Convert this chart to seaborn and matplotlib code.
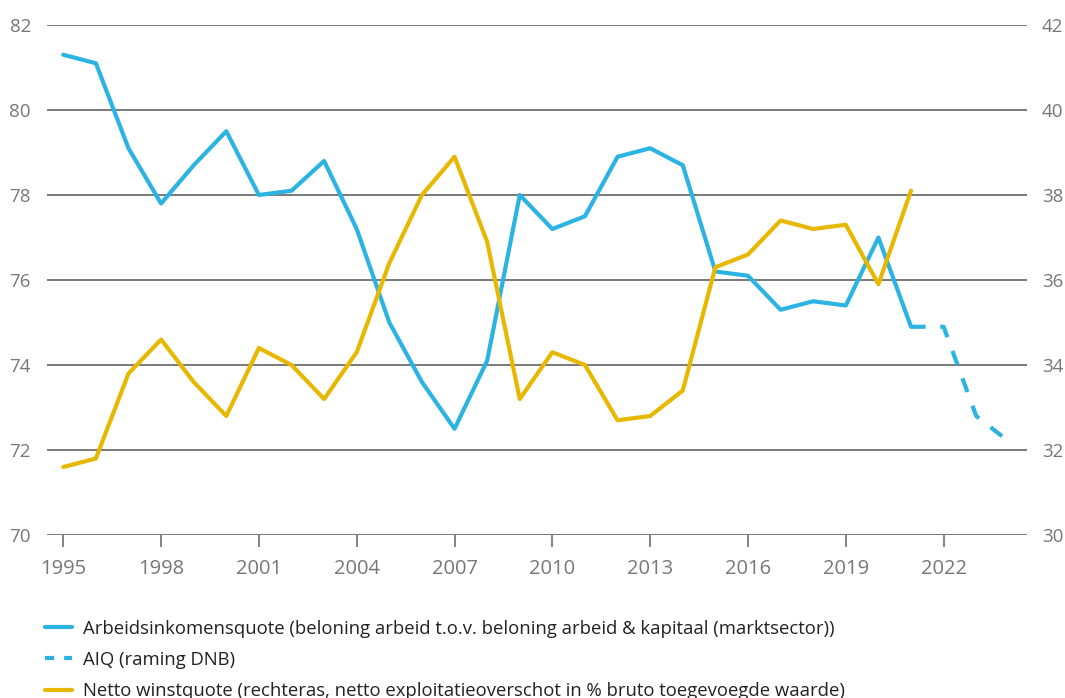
import numpy as np
import pandas as pd
import matplotlib.pyplot as plt
import seaborn as sns
from matplotlib.lines import Line2D

# Data
years = list(range(1995, 2022))
aiq = [81.3, 81.1, 79.1, 77.8, 78.7, 79.5, 78.0, 78.1, 78.8, 77.2,
       75.0, 73.6, 72.5, 74.1, 78.0, 77.2, 77.5, 78.9, 79.1, 78.7,
       76.2, 76.1, 75.3, 75.5, 75.4, 77.0, 74.9]
winst = [31.6, 31.8, 33.8, 34.6, 33.6, 32.8, 34.4, 34.0, 33.2, 34.3,
         36.4, 38.0, 38.9, 36.9, 33.2, 34.3, 34.0, 32.7, 32.8, 33.4,
         36.3, 36.6, 37.4, 37.2, 37.3, 35.9, 38.1]
raming_years = [2021, 2022, 2023, 2024]
raming = [74.9, 74.9, 72.8, 72.2]

labels = ['Arbeidsinkomensquote (beloning arbeid t.o.v. beloning arbeid & kapitaal (marktsector))',
          'AIQ (raming DNB)',
          'Netto winstquote (rechteras, netto exploitatieoverschot in % bruto toegevoegde waarde)']

blue = '#2bb3e3'
yellow = '#e8b800'
grey = '#777777'

df = pd.DataFrame({'year': years, 'aiq': aiq, 'winst': winst})
df_r = pd.DataFrame({'year': raming_years, 'aiq': raming})

sns.set_style('white')
plt.rcParams['font.family'] = ['Open Sans', 'DejaVu Sans']

fig = plt.figure(figsize=(10.65, 6.98), dpi=100)
ax = fig.add_axes([0.0441, 0.2335, 0.920, 0.7307])
ax2 = ax.twinx()

sns.lineplot(data=df, x='year', y='aiq', ax=ax, color=blue, linewidth=3)
sns.lineplot(data=df_r, x='year', y='aiq', ax=ax, color=blue, linewidth=3,
             linestyle=(0, (3.5, 3.5)))
sns.lineplot(data=df, x='year', y='winst', ax=ax2, color=yellow, linewidth=3)

ax.set_xlim(1994.5, 2024.55)
ax.set_ylim(70, 82)
ax2.set_ylim(30, 42)
ax.set_yticks(range(70, 83, 2))
ax2.set_yticks(range(30, 43, 2))
ax.set_xticks(range(1995, 2023, 3))

ax.grid(axis='y', color='#6e6e6e', linewidth=1.3)
ax.set_axisbelow(True)
for a in (ax, ax2):
    for s in a.spines.values():
        s.set_visible(False)
    a.set_xlabel('')
    a.set_ylabel('')

ax.tick_params(axis='x', direction='out', length=8.6, width=1.2, color='#6e6e6e',
               labelsize=14.5, labelcolor=grey, pad=9, bottom=True)
ax.tick_params(axis='y', length=0, labelsize=13.5, labelcolor=grey, pad=11.5)
ax2.tick_params(axis='y', length=0, labelsize=13.5, labelcolor=grey, pad=11)

handles = [Line2D([], [], color=blue, linewidth=3),
           Line2D([], [], color=blue, linewidth=3, linestyle=(0, (2.2, 2.4))),
           Line2D([], [], color=yellow, linewidth=3)]
fig.legend(handles, labels, loc='upper left', bbox_to_anchor=(0.035, 0.123),
           frameon=False, fontsize=13.3, handlelength=1.5, labelspacing=0.72,
           handletextpad=0.55, borderaxespad=0, labelcolor='#222222')

fig.savefig('out.png', dpi=100)
